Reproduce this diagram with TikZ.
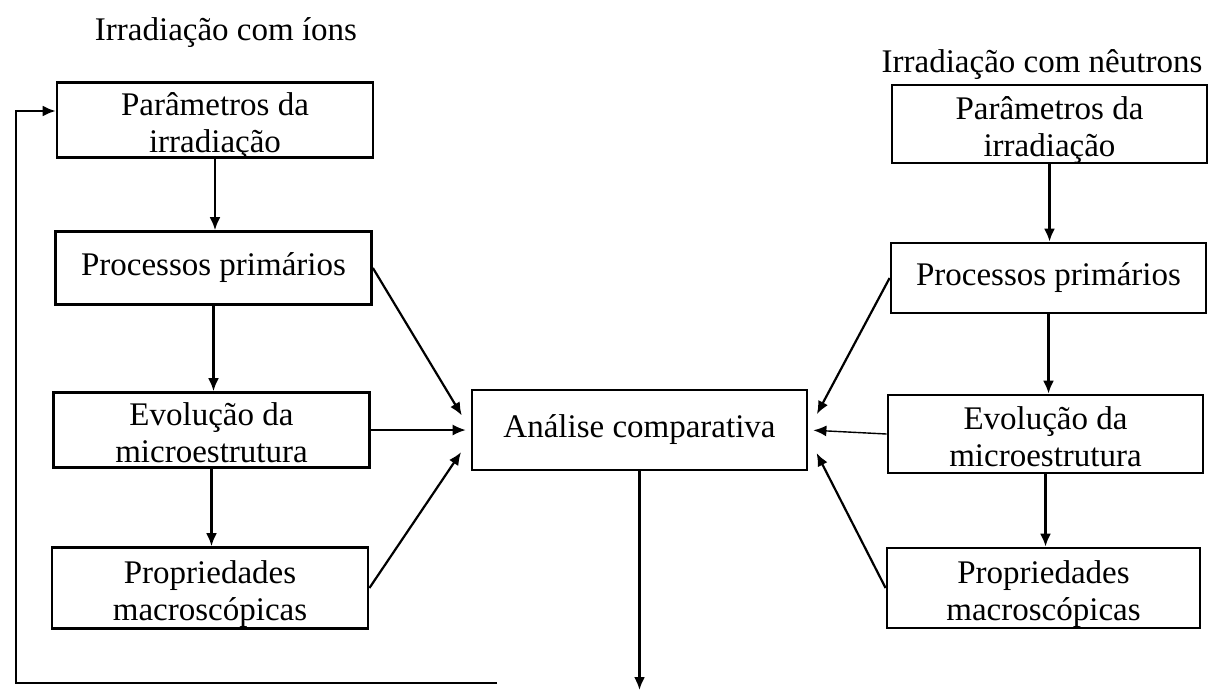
\documentclass[tikz,border=0pt]{standalone}
\usepackage{fontspec}
\setmainfont{Liberation Serif}
\usetikzlibrary{arrows.meta}

\tikzset{
  block/.style={draw, line width=2.8pt, minimum width=316pt, inner sep=2pt,
    font=\fontsize{33}{37}\selectfont},
  heading/.style={anchor=base, inner sep=0pt, font=\fontsize{33}{37}\selectfont},
  link/.style={line width=2.2pt, -{Latex[length=13pt,width=11pt]}},
  thinlink/.style={line width=1.4pt, -{Latex[length=13pt,width=11pt]}}
}
% two lines, first baseline a bit above the middle of the box
\newcommand{\twolines}[2]{\raisebox{0pt}[26pt][35pt]{\begin{tabular}[t]{@{}c@{}}#1\\#2\end{tabular}}}

\begin{document}
\begin{tikzpicture}[x=1pt,y=-1pt]
    \useasboundingbox (0,0) rectangle (1220,689);

    \node[heading] (titleL) at (226,40) {Irradiação com íons};
    \node[heading] (titleR) at (1042,72) {Irradiação com nêutrons};

    % ions
    \node[block, minimum height=75pt] (paramL) at (215,120) {\twolines{Parâmetros da}{irradiação}};
    \node[block, minimum height=73pt] (primL) at (213.5,268) {Processos primários};
    \node[block, minimum height=75pt] (microL) at (211.5,430) {\twolines{Evolução da}{microestrutura}};
    \node[block, minimum height=81pt] (propL) at (210,588) {\twolines{Propriedades}{macroscópicas}};

    % comparison
    \node[block, minimum width=335pt, minimum height=80pt] (comp) at (639.5,430) {Análise comparativa};

    % neutrons
    \node[block, minimum width=315pt, minimum height=78pt] (paramR) at (1049.5,124) {\twolines{Parâmetros da}{irradiação}};
    \node[block, minimum width=315pt, minimum height=70pt] (primR) at (1048.5,278) {Processos primários};
    \node[block, minimum width=315pt, minimum height=78pt] (microR) at (1045.5,434) {\twolines{Evolução da}{microestrutura}};
    \node[block, minimum width=313pt, minimum height=80pt] (propR) at (1043.5,588) {\twolines{Propriedades}{macroscópicas}};

    \coordinate (out) at (636,690);
    \coordinate (fb) at (497,683);
    \coordinate (loop) at (16,683);

    % chains
    \draw[link] (paramL.south) -- (paramL.south |- primL.north);
    \draw[link] (primL.south) -- (primL.south |- microL.north);
    \draw[link] (microL.south) -- (microL.south |- propL.north);
    \draw[link] (paramR.south) -- (paramR.south |- primR.north);
    \draw[link] (primR.south) -- (primR.south |- microR.north);
    \draw[link] (microR.south) -- (microR.south |- propR.north);

    % into the comparison
    \draw[link, shorten >=17pt] (primL.east) -- (comp.west);
    \draw[thinlink, shorten >=5pt] (microL.east) -- (comp.west);
    \draw[link, shorten >=17pt] (propL.east) -- ([yshift=-8pt]comp.west);
    \draw[link, shorten >=18pt] (primR.west) -- (comp.east);
    \draw[thinlink, shorten >=5pt] (microR.west) -- (comp.east);
    \draw[link, shorten >=18pt] (propR.west) -- ([yshift=-7pt]comp.east);

    % out and back
    \draw[link] (comp.south) -- (comp.south |- out);
    \draw[link] (fb) -- (loop) |- ([yshift=9pt]paramL.west);
\end{tikzpicture}
\end{document}
